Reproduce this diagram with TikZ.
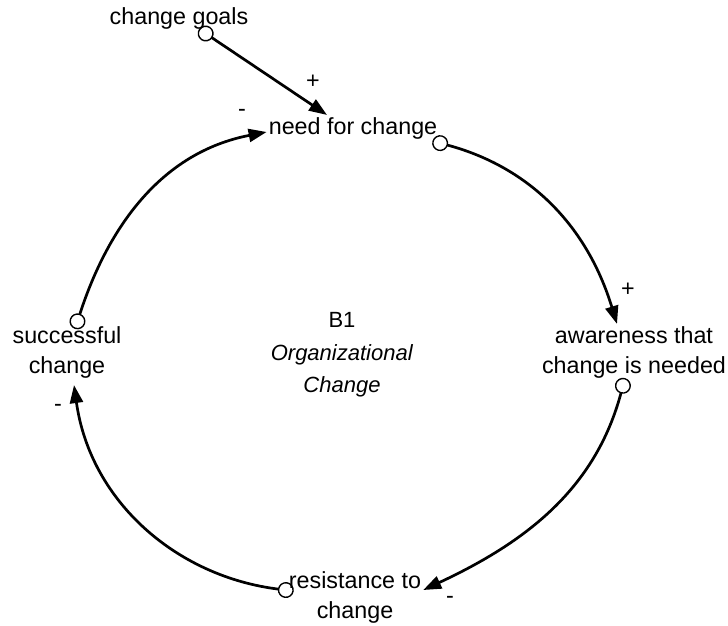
\documentclass[tikz,border=0pt]{standalone}
\usepackage{fontspec}
\setmainfont{Liberation Sans}
\usetikzlibrary{positioning,arrows.meta}

\tikzset{
	var/.style={font=\fontsize{23.3}{30}\selectfont,align=center,inner sep=2pt},
	pol/.style={font=\fontsize{23.3}{30}\selectfont,inner sep=0pt},
	link/.style={line width=2.7pt,{Circle[open,length=16pt,line width=1.4pt]}-{Triangle[length=18pt,width=13pt]}}
}

\begin{document}
\begin{tikzpicture}[x=1pt,y=1pt]
		\def\W{728}
		\def\H{625}
		\useasboundingbox (0,0) rectangle (\W,\H);
		\node[var] (goals) at (179,607) {change goals};
		\node[var] (need) at (353,497) {need for change};
		\node[var] (aware) at (634,273) {awareness that\\change is needed};
		\node[var] (res) at (355,28) {resistance to\\change};
		\node[var] (succ) at (67,273) {successful\\change};
		\node[align=center,font=\fontsize{22}{32.5}\selectfont] (loop) at (342,270) {B1\\\textit{Organizational}\\\textit{Change}};
		
		\draw[link] ([xshift=20pt,yshift=2pt]goals.south) -- ([xshift=-26pt]need.north);
		\draw[link] ([xshift=-7pt]need.south east) to[out=-15,in=107] ([xshift=-17pt]aware.north);
		\draw[link] ([xshift=-9pt,yshift=2pt]aware.south) to[out=-105,in=25] ([yshift=7pt]res.east);
		\draw[link] ([xshift=7pt,yshift=6pt]res.west) to[out=173,in=-82] ([xshift=7pt,yshift=-5pt]succ.south);
		\draw[link] ([xshift=8pt,yshift=-5pt]succ.north) to[out=72,in=-169] ([yshift=-4pt]need.west);
		
		\node[pol] (p1) at (313,543) {+};
		\node[pol] (m1) at (242,512) {-};
		\node[pol] (p2) at (628,335) {+};
		\node[pol] (m3) at (450,25) {-};
		\node[pol] (m4) at (58,217) {-};
	\end{tikzpicture}
\end{document}
